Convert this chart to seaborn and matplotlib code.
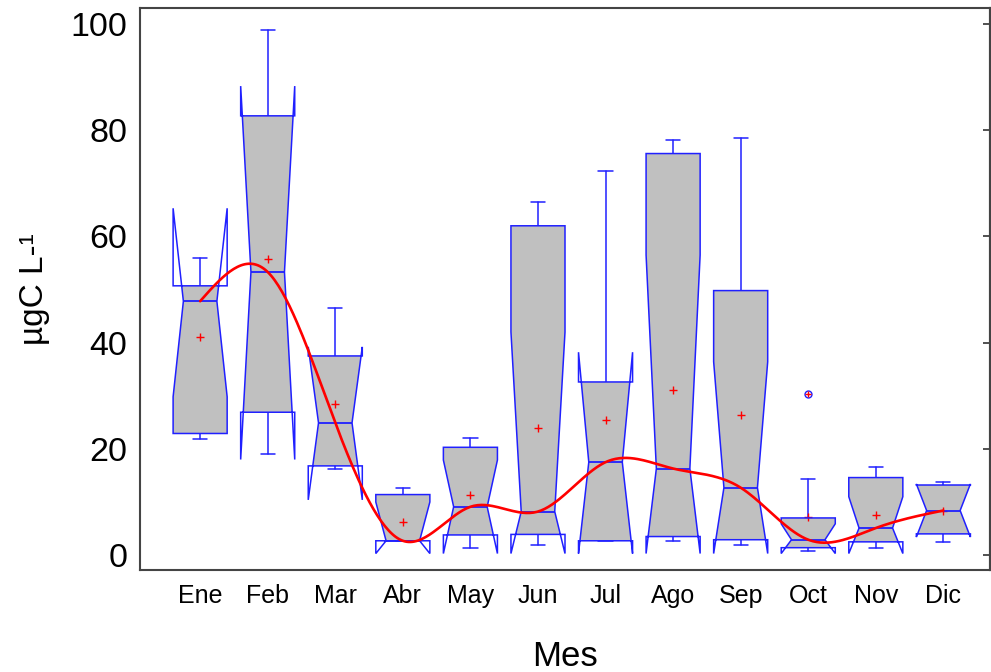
import numpy as np
import matplotlib
matplotlib.use("Agg")
import matplotlib.pyplot as plt
from matplotlib.patches import PathPatch, Rectangle
from matplotlib.path import Path
from matplotlib.ticker import MultipleLocator
import seaborn as sns

months = ['Ene', 'Feb', 'Mar', 'Abr', 'May', 'Jun', 'Jul', 'Ago', 'Sep', 'Oct', 'Nov', 'Dic']
whislo = [21.8, 19.1, 16.3, 2.7, 1.4, 1.9, 2.7, 2.7, 1.9, 0.75, 1.4, 2.5]
q1 = [22.9, 26.9, 16.8, 2.7, 3.8, 3.9, 2.7, 3.5, 2.9, 1.4, 2.5, 4.0]
med = [47.8, 53.3, 24.9, 2.7, 9.1, 8.2, 17.5, 16.3, 12.7, 2.9, 5.1, 8.4]
q3 = [50.7, 82.7, 37.5, 11.4, 20.3, 62.0, 32.6, 75.6, 49.8, 7.0, 14.6, 13.2]
whishi = [55.9, 98.9, 46.5, 12.7, 22.1, 66.5, 72.4, 78.2, 78.6, 14.4, 16.5, 13.7]
means = [41.0, 55.7, 28.4, 6.2, 11.4, 24.0, 25.5, 31.1, 26.4, 7.1, 7.5, 8.4]
cilo = [29.8, 18.0, 10.4, 0.3, 0.3, 0.3, 0.3, 0.3, 0.3, 0.3, 0.3, 3.4]
cihi = [65.3, 88.3, 39.2, 10.0, 17.9, 42.0, 38.2, 56.5, 36.4, 5.9, 11.0, 13.4]
outlier_month = ['Oct']
outlier_value = [30.4]

sns.set_style("white")
plt.rcParams['font.family'] = ['Liberation Sans', 'DejaVu Sans']
plt.rcParams['text.color'] = 'black'
plt.rcParams['axes.labelcolor'] = 'black'
plt.rcParams['xtick.color'] = 'black'
plt.rcParams['ytick.color'] = 'black'

fig = plt.figure(figsize=(9.91, 6.72), dpi=100)
ax = fig.add_axes([140 / 991, 102 / 672, 850 / 991, 562 / 672])

BLUE = '#2020ff'
positions = np.arange(len(months))
width = 0.8

stats = []
for i, m in enumerate(months):
    fl = [v for mm, v in zip(outlier_month, outlier_value) if mm == m]
    stats.append(dict(label=m, whislo=whislo[i], q1=q1[i], med=med[i], q3=q3[i],
                      whishi=whishi[i], mean=means[i], cilo=cilo[i], cihi=cihi[i],
                      fliers=fl))

art = ax.bxp(stats, positions=positions, widths=width, capwidths=0.21,
             shownotches=True, showmeans=True, patch_artist=True, manage_ticks=False,
             boxprops=dict(facecolor='none', edgecolor=BLUE, linewidth=1.1),
             whiskerprops=dict(color=BLUE, linewidth=1.1),
             capprops=dict(color=BLUE, linewidth=1.1),
             medianprops=dict(color=BLUE, linewidth=1.3),
             meanprops=dict(marker='+', markeredgecolor='red', markersize=6,
                            markeredgewidth=1.0, linestyle='none'),
             flierprops=dict(marker='o', markersize=5, markerfacecolor='none',
                             markeredgecolor=BLUE, markeredgewidth=1.0))

# widen notch waist to Statgraphics proportion and add clipped grey fill
for i, patch in enumerate(art['boxes']):
    p = positions[i]
    path = patch.get_path()
    v = path.vertices.copy()
    for k in range(len(v)):
        if abs(v[k, 1] - med[i]) < 1e-9 and abs(abs(v[k, 0] - p) - width / 4) < 1e-9:
            v[k, 0] = p + np.sign(v[k, 0] - p) * width * 0.31
    newpath = Path(v, path.codes)
    patch.set_path(newpath)
    patch.set_zorder(3)
    fill = PathPatch(newpath, facecolor='#c0c0c0', edgecolor='none', zorder=2)
    ax.add_patch(fill)
    clip = Rectangle((p - width / 2, q1[i]), width, q3[i] - q1[i], transform=ax.transData)
    fill.set_clip_path(clip)
    art['medians'][i].set_xdata([p - width * 0.31, p + width * 0.31])
    art['medians'][i].set_zorder(3)

# red outlier cross
sns.scatterplot(x=[months.index(m) for m in outlier_month], y=outlier_value, ax=ax,
                marker='+', color='red', s=25, linewidth=1.0, zorder=5)


# natural cubic spline through the medians
def natural_spline(x, y, xs):
    x = np.asarray(x, float)
    y = np.asarray(y, float)
    n = len(x)
    h = np.diff(x)
    A = np.zeros((n, n))
    b = np.zeros(n)
    A[0, 0] = 1
    A[-1, -1] = 1
    for k in range(1, n - 1):
        A[k, k - 1] = h[k - 1]
        A[k, k] = 2 * (h[k - 1] + h[k])
        A[k, k + 1] = h[k]
        b[k] = 6 * ((y[k + 1] - y[k]) / h[k] - (y[k] - y[k - 1]) / h[k - 1])
    M = np.linalg.solve(A, b)
    idx = np.clip(np.searchsorted(x, xs) - 1, 0, n - 2)
    x0, x1 = x[idx], x[idx + 1]
    hh = x1 - x0
    t0, t1 = x1 - xs, xs - x0
    return (M[idx] * t0 ** 3 / (6 * hh) + M[idx + 1] * t1 ** 3 / (6 * hh)
            + (y[idx] / hh - M[idx] * hh / 6) * t0 + (y[idx + 1] / hh - M[idx + 1] * hh / 6) * t1)


xs = np.linspace(0, len(months) - 1, 400)
ys = natural_spline(positions, med, xs)
sns.lineplot(x=xs, y=ys, ax=ax, color='red', linewidth=1.9, zorder=6)

ax.set_xlim(-0.89, 11.69)
ax.set_ylim(-2.8, 103)
ax.set_xticks(positions)
ax.set_xticklabels(months, fontsize=18)
ax.set_yticks([0, 20, 40, 60, 80, 100])
ax.yaxis.set_minor_locator(MultipleLocator(5))
ax.tick_params(axis='y', which='major', direction='in', length=17, width=1.2,
               labelsize=24.5, pad=9, color='#333333')
ax.tick_params(axis='y', which='minor', direction='in', length=9, width=1.2, color='#333333')
ax.tick_params(axis='x', length=0, pad=10)

sec = ax.secondary_yaxis('right')
sec.set_yticks([0, 20, 40, 60, 80, 100])
sec.tick_params(direction='in', length=5, width=1.2, labelright=False, color='#333333')
sec.spines['right'].set_color('#444444')
sec.spines['right'].set_linewidth(1.5)

for s in ax.spines.values():
    s.set_visible(True)
    s.set_color('#444444')
    s.set_linewidth(1.5)

ax.set_xlabel('Mes', fontsize=25, labelpad=23)
ax.set_ylabel('µgC L-¹', fontsize=24, labelpad=15)

fig.savefig('out.png', dpi=100)
